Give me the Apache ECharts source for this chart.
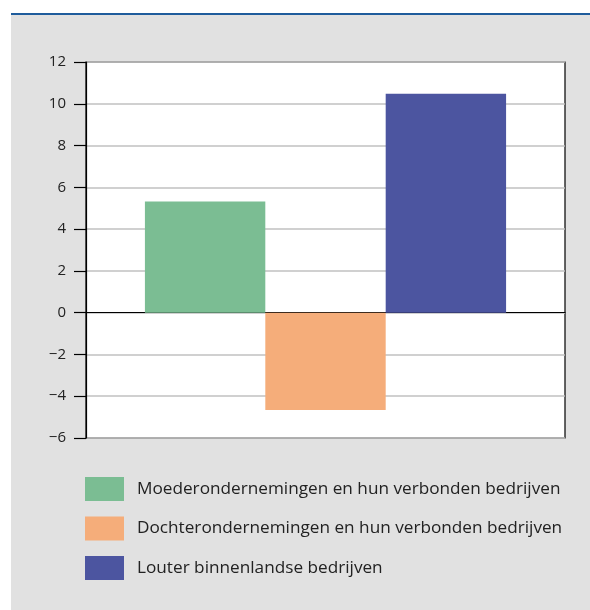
<!DOCTYPE html>
<html>
<head>
<meta charset="utf-8">
<script src="https://cdn.jsdelivr.net/npm/echarts@6/dist/echarts.min.js"></script>
<style>
  html, body { margin: 0; padding: 0; background: #fff; }
  #chart { width: 590px; height: 610px; }
</style>
</head>
<body>
<div id="chart"></div>
<script>
const seriesNames = [
  'Moederondernemingen en hun verbonden bedrijven',
  'Dochterondernemingen en hun verbonden bedrijven',
  'Louter binnenlandse bedrijven'
];
const seriesValues = [5.32, -4.66, 10.48];
const seriesColors = ['#7bbd93', '#f5ad7a', '#4c55a0'];
const categories = [''];

const chart = echarts.init(document.getElementById('chart'), null, { renderer: 'canvas' });

const series = seriesNames.map((name, i) => ({
  name: name,
  type: 'bar',
  data: [seriesValues[i]],
  barGap: '0%',
  barCategoryGap: '24.6%',
  itemStyle: { color: seriesColors[i] }
}));

chart.setOption({
  backgroundColor: '#ffffff',
  animation: false,
  graphic: [
    {
      type: 'rect',
      z: -10,
      shape: { x: 11, y: 15, width: 590, height: 600 },
      style: { fill: '#e1e1e1' }
    },
    {
      type: 'rect',
      z: -9,
      shape: { x: 11, y: 13, width: 590, height: 2 },
      style: { fill: '#1f5c9c' }
    }
  ],
  grid: {
    left: 86,
    right: 25,
    top: 62,
    bottom: 172,
    show: true,
    backgroundColor: '#ffffff',
    borderColor: '#000000',
    borderWidth: 1.2
  },
  legend: {
    orient: 'vertical',
    left: 85,
    top: 477,
    padding: 0,
    itemWidth: 39,
    itemHeight: 24,
    itemGap: 15.5,
    icon: 'rect',
    selectedMode: false,
    textStyle: {
      fontFamily: 'Open Sans',
      fontSize: 17.2,
      color: '#222222',
      padding: [0, 0, 0, 8]
    },
    data: seriesNames
  },
  xAxis: {
    type: 'category',
    data: categories,
    axisLine: { show: true, onZero: true, lineStyle: { color: '#000000', width: 1.2 } },
    axisTick: { show: false },
    axisLabel: { show: false },
    splitLine: { show: false }
  },
  yAxis: {
    type: 'value',
    min: -6,
    max: 12,
    interval: 2,
    axisLine: { show: true, lineStyle: { color: '#000000', width: 1.2 } },
    axisTick: { show: true, length: 12, lineStyle: { color: '#000000', width: 1.2 } },
    axisLabel: {
      margin: 20,
      fontFamily: 'Open Sans',
      fontSize: 15,
      color: '#222222',
      formatter: v => String(v).replace('-', '\u2212')
    },
    splitLine: { show: true, lineStyle: { color: '#c0c0c0', width: 1.5 } }
  },
  series: series
});
</script>
</body>
</html>
